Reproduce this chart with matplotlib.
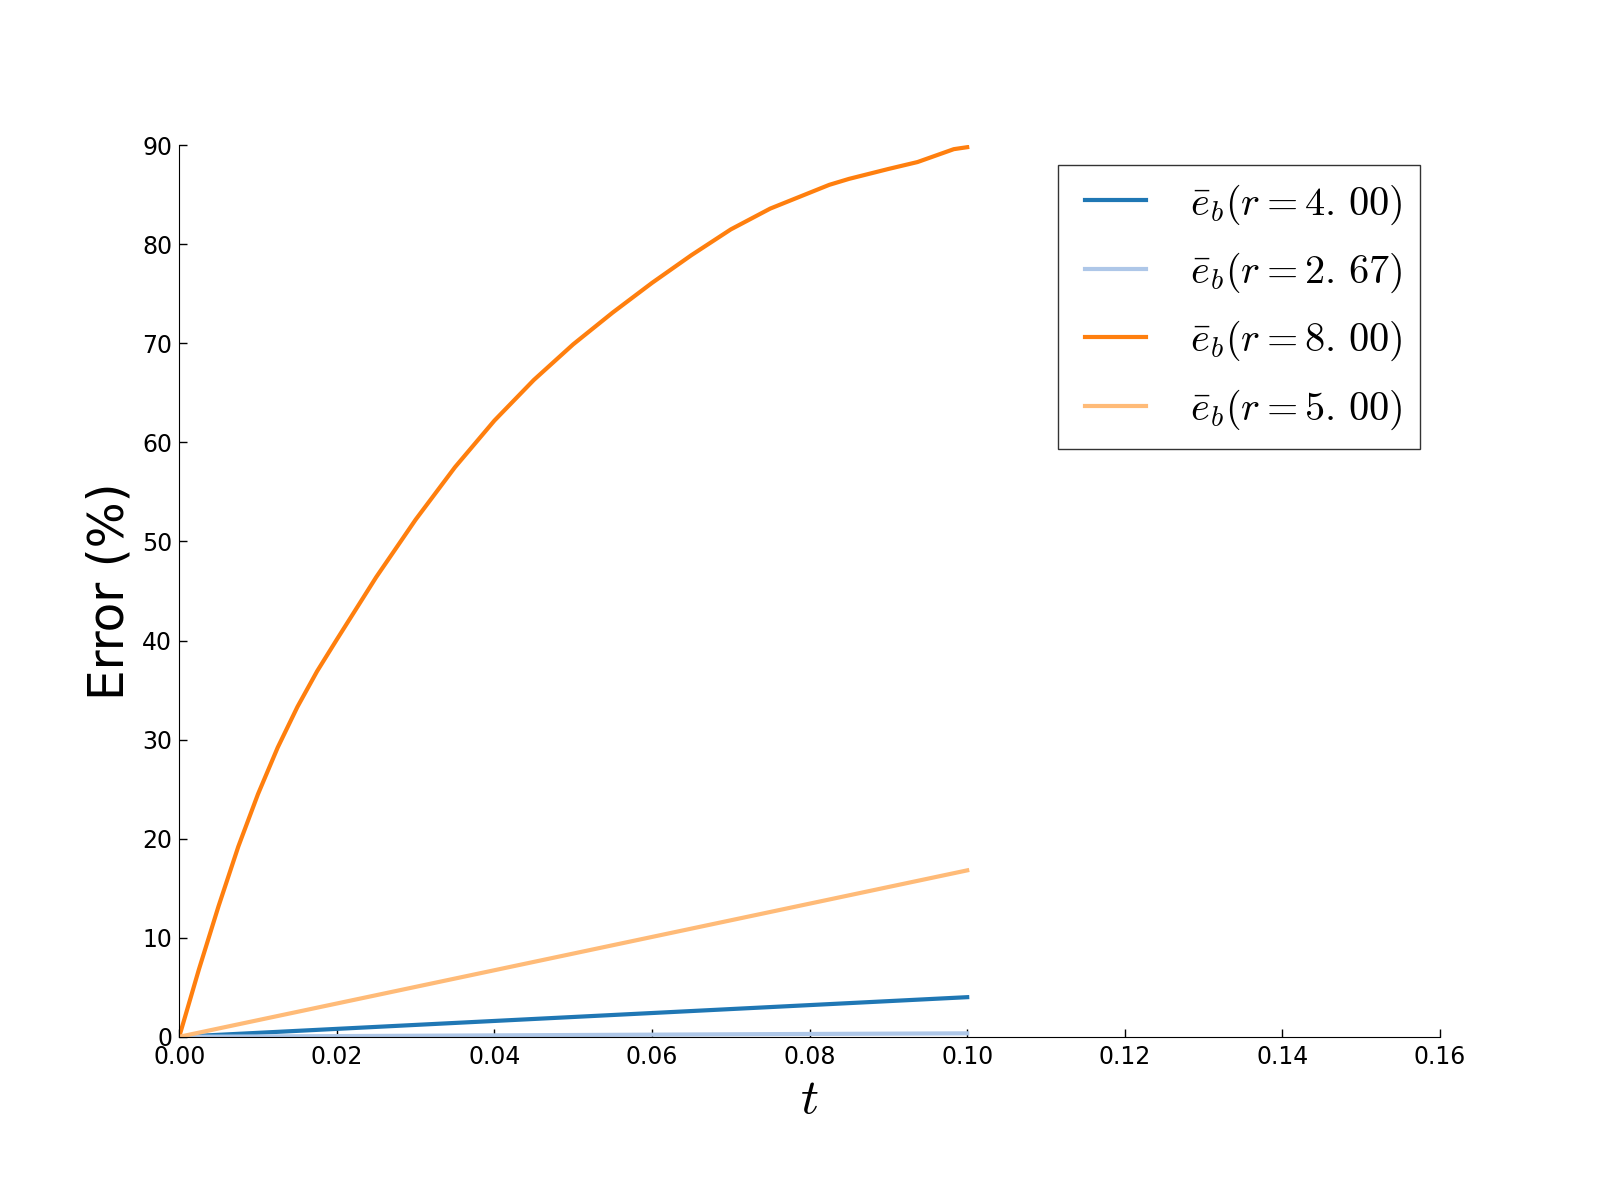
"""Error of the bar estimator over time for several ratios r."""

import matplotlib

matplotlib.use("Agg")
import matplotlib.pyplot as plt
from matplotlib.legend_handler import HandlerLine2D
from matplotlib.lines import Line2D

plt.rcParams["mathtext.fontset"] = "cm"

# time samples for the r = 8 curve
t_values = [0.0, 0.0025, 0.005, 0.0075, 0.01, 0.0125, 0.015, 0.0175, 0.02,
            0.025, 0.03, 0.035, 0.04, 0.045, 0.05, 0.055, 0.06, 0.065, 0.07,
            0.075, 0.08, 0.0825, 0.085, 0.09, 0.0937, 0.0983, 0.1]

err_r8 = [0.0, 6.8, 13.2, 19.2, 24.5, 29.2, 33.3, 36.9, 40.1,
          46.4, 52.2, 57.5, 62.2, 66.3, 69.9, 73.1, 76.1, 78.9, 81.5,
          83.6, 85.2, 86.0, 86.6, 87.6, 88.3, 89.6, 89.8]

t_lin = [0.0, 0.025, 0.05, 0.075, 0.1]
err_r4 = [0.0, 1.0, 2.0, 3.0, 4.0]
err_r267 = [0.0, 0.09, 0.18, 0.27, 0.35]
err_r5 = [0.0, 4.2, 8.4, 12.6, 16.8]

labels = [r"$\bar{e}_b(r=4.\,00)$", r"$\bar{e}_b(r=2.\,67)$",
          r"$\bar{e}_b(r=8.\,00)$", r"$\bar{e}_b(r=5.\,00)$"]
colors = ["#1f77b4", "#aec7e8", "#ff7f0e", "#ffbb78"]

fig = plt.figure(figsize=(16, 12), dpi=100)
ax = fig.add_axes([0.112, 0.136, 0.788, 0.743])

series = [(t_lin, err_r4), (t_lin, err_r267), (t_values, err_r8), (t_lin, err_r5)]
for (x, y), label, color in zip(series, labels, colors):
    ax.plot(x, y, color=color, linewidth=3, label=label)

ax.set_xlim(0, 0.16)
ax.set_ylim(0, 90)
ax.set_xticks([0.0, 0.02, 0.04, 0.06, 0.08, 0.10, 0.12, 0.14, 0.16])
ax.set_xticklabels(["0.00", "0.02", "0.04", "0.06", "0.08", "0.10", "0.12", "0.14", "0.16"])
ax.set_yticks(range(0, 91, 10))

ax.spines["top"].set_visible(False)
ax.spines["right"].set_visible(False)
ax.tick_params(direction="in", length=6, width=1, labelsize=17,
               top=False, right=False)
ax.tick_params(axis="x", pad=6)
ax.tick_params(axis="y", pad=5)

ax.set_xlabel(r"$t$", fontsize=36, labelpad=4)
ax.set_ylabel("Error (%)", fontsize=35, labelpad=6)

leg = ax.legend(loc="upper right", fontsize=29, fancybox=False, frameon=True,
                handlelength=1.77, handletextpad=1.1, labelspacing=0.6,
                borderaxespad=0.5, borderpad=0.42,
                handler_map={Line2D: HandlerLine2D(xpad=0.25)})
leg.get_frame().set_edgecolor("black")
leg.get_frame().set_linewidth(1)

fig.savefig("out.png", dpi=100)
